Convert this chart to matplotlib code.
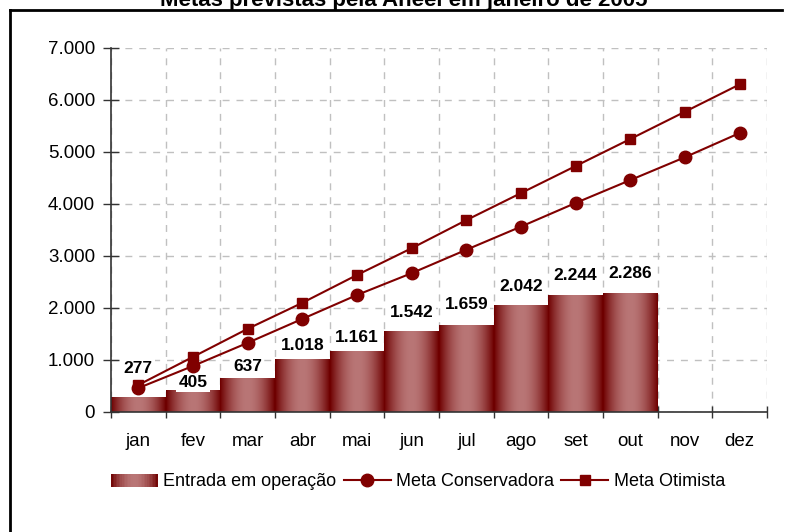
import numpy as np
import matplotlib
matplotlib.use('Agg')
import matplotlib.pyplot as plt
from matplotlib.patches import Rectangle
from matplotlib.lines import Line2D
from matplotlib.legend_handler import HandlerBase
from matplotlib.colors import to_rgb

plt.rcParams['font.family'] = ['Liberation Sans', 'DejaVu Sans']

# data
months = ['jan', 'fev', 'mar', 'abr', 'mai', 'jun', 'jul', 'ago', 'set', 'out', 'nov', 'dez']
entrada = [277, 405, 637, 1018, 1161, 1542, 1659, 2042, 2244, 2286]
meta_conservadora = [460, 885, 1330, 1790, 2250, 2670, 3120, 3565, 4020, 4460, 4900, 5365]
meta_otimista = [520, 1060, 1600, 2100, 2635, 3150, 3690, 4210, 4730, 5250, 5775, 6300]
title = 'Metas previstas pela Aneel em janeiro de 2005'

# label offsets above bars (points)
label_dy = [21, 6, 9, 10, 10, 14, 15, 14, 14, 14]

dark = np.array(to_rgb('#6e0000'))
light = np.array(to_rgb('#b97676'))
line_color = '#800000'


def grad_color(t):
    w = np.sin(np.pi * t) ** 0.9
    return dark + (light - dark) * w


fig = plt.figure(figsize=(7.86, 5.32), dpi=100)
ax = fig.add_axes([111 / 786, 120 / 532, (767 - 111) / 786, (412 - 48) / 532])

# gradient bars
n_steps = 60
ts = np.linspace(0, 1, n_steps)
grad_img = np.array([grad_color(t) for t in ts])[None, :, :]
for i, v in enumerate(entrada):
    ax.imshow(grad_img, extent=(i - 0.5, i + 0.5, 0, v), aspect='auto',
              interpolation='bilinear', zorder=2)

ax.plot(range(len(meta_conservadora)), meta_conservadora, color=line_color, lw=1.5,
        marker='o', markersize=9, zorder=4)
ax.plot(range(len(meta_otimista)), meta_otimista, color=line_color, lw=1.5,
        marker='s', markersize=6.5, zorder=4)

for i, v in enumerate(entrada):
    ax.annotate(f'{v:,}'.replace(',', '.'), (i, v), xytext=(0, label_dy[i]),
                textcoords='offset points', ha='center', va='center',
                fontsize=12.5, fontweight='bold', zorder=3,
                bbox=dict(facecolor='white', edgecolor='none', pad=1.5))

ax.set_xlim(-0.5, 11.5)
ax.set_ylim(0, 7000)
ax.set_yticks(range(0, 7001, 1000))
ax.set_yticklabels([f'{v:,}'.replace(',', '.') for v in range(0, 7001, 1000)])
ax.set_xticks(range(12))
ax.set_xticklabels(months)
ax.set_xticks(np.arange(-0.5, 12, 1), minor=True)
ax.tick_params(axis='x', which='major', length=0, pad=15, labelsize=13.5)
ax.tick_params(axis='x', which='minor', direction='inout', length=9, width=1, color='#333333')
ax.tick_params(axis='y', direction='inout', length=11, width=1, color='#333333',
               labelsize=13.5, pad=6)

ax.grid(True, axis='y', which='major', color='#c0c0c0', linestyle=(0, (5, 5)), lw=1)
ax.grid(True, axis='x', which='minor', color='#c0c0c0', linestyle=(0, (5, 5)), lw=1)
ax.set_axisbelow(True)
for s in ['top', 'right']:
    ax.spines[s].set_visible(False)
for s in ['left', 'bottom']:
    ax.spines[s].set_color('#333333')
    ax.spines[s].set_linewidth(1.2)


class HandlerGradient(HandlerBase):
    def create_artists(self, legend, orig_handle, xdescent, ydescent, width, height,
                       fontsize, trans):
        arts = []
        k = 30
        for j in range(k):
            r = Rectangle((-xdescent + width * j / k, -ydescent), width / k + 0.3, height,
                          facecolor=grad_color((j + 0.5) / k), edgecolor='none',
                          transform=trans)
            arts.append(r)
        return arts


bar_handle = Rectangle((0, 0), 1, 1)
h1 = Line2D([], [], color=line_color, lw=1.5, marker='o', markersize=9)
h2 = Line2D([], [], color=line_color, lw=1.5, marker='s', markersize=6.5)
fig.legend([bar_handle, h1, h2], ['Entrada em operação', 'Meta Conservadora', 'Meta Otimista'],
           handler_map={Rectangle: HandlerGradient()}, loc='center',
           bbox_to_anchor=(418 / 786, 1 - 482 / 532), ncol=3, frameon=False,
           fontsize=13, handlelength=2.6, handletextpad=0.3, columnspacing=0.4)

fig.text(404 / 786, 1 - 6 / 532, title, ha='center', va='baseline',
         fontsize=16, fontweight='bold')

# figure frame (top and left edges)
fig.add_artist(Line2D([10 / 786, 782 / 786], [1 - 10 / 532, 1 - 10 / 532],
                      transform=fig.transFigure, color='black', lw=2))
fig.add_artist(Line2D([10 / 786, 10 / 786], [1 - 10 / 532, 0],
                      transform=fig.transFigure, color='black', lw=2))

fig.savefig('out.png', dpi=100)
